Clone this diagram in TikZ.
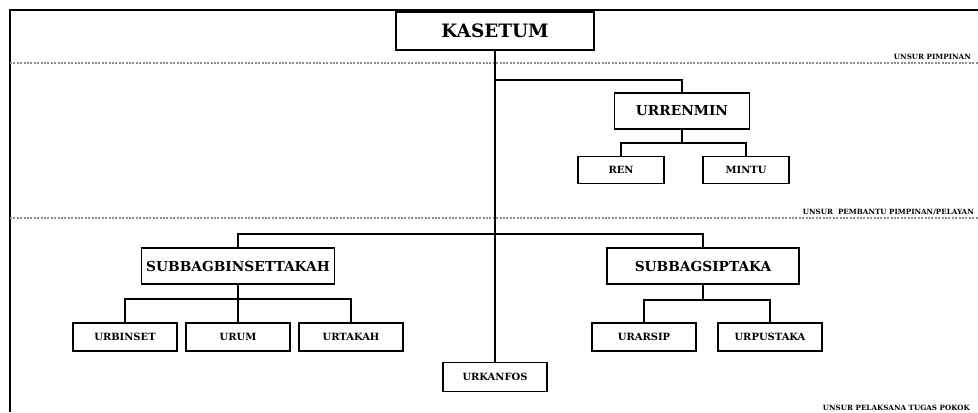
\documentclass[tikz,border=0pt]{standalone}
\usepackage{fontspec}
\setmainfont{DejaVu Serif}
\usepackage{tikz}
\usetikzlibrary{positioning}

\begin{document}
\begin{tikzpicture}[
		x=1bp,
		y=-1bp,
		line join=miter,
		unitbox/.style={
			draw=black,
			fill=white,
			line width=1.8pt,
			inner sep=0pt
		},
		headbox/.style={unitbox,minimum width=198bp,minimum height=38bp,font=\fontsize{18.5}{18.5}\selectfont\bfseries},
		subbox/.style={unitbox,minimum height=36bp,font=\fontsize{13.8}{13.8}\selectfont\bfseries},
		leafbox/.style={unitbox,minimum width=104bp,minimum height=28bp,font=\fontsize{10}{10}\selectfont\bfseries},
		link/.style={draw=black,line width=1.5pt},
		divider/.style={draw=black!45,line width=1.1pt,dash pattern=on 2bp off 1.4bp},
		tier/.style={anchor=south east,inner sep=1pt,font=\fontsize{7.2}{7.2}\selectfont\bfseries}
		]
		
		% page frame
		\useasboundingbox (0,0) rectangle (978,412);
		\draw[line width=1.8pt] (978,10) -- (10,10) -- (10,412);
		
		% tier dividers
		\coordinate (d1l) at (10,63);
		\coordinate (d1r) at (978,63);
		\coordinate (d2l) at (10,218);
		\coordinate (d2r) at (978,218);
		\draw[divider] (d1l) -- (d1r);
		\draw[divider] (d2l) -- (d2r);
		
		% tier labels
		\node[tier] (tpim) at (972,61) {UNSUR PIMPINAN};
		\node[tier] (tpem) at (975,216) {UNSUR~~PEMBANTU PIMPINAN/PELAYAN};
		\node[tier] (tpel) at (971,412) {UNSUR PELAKSANA TUGAS POKOK};
		
		% junctions on the trunk
		\coordinate (jren) at (495,80);
		\coordinate (jsub) at (495,234);
		
		% boxes
		\node[headbox] (kasetum) at (495,31) {KASETUM};
		\node[subbox,minimum width=135bp] (urrenmin) at (682,111) {URRENMIN};
		\node[leafbox,minimum width=86bp,minimum height=27bp] (ren) at (621,170) {REN};
		\node[leafbox,minimum width=86bp,minimum height=27bp] (mintu) at (746,170) {MINTU};
		
		\node[subbox,minimum width=193bp] (binset) at (238,266) {SUBBAGBINSETTAKAH};
		\node[subbox,minimum width=192bp] (siptaka) at (703,266) {SUBBAGSIPTAKA};
		
		\node[leafbox] (urbinset) at (125,337) {URBINSET};
		\node[leafbox] (urum) at (238,337) {URUM};
		\node[leafbox] (urtakah) at (351,337) {URTAKAH};
		\node[leafbox] (urarsip) at (644,337) {URARSIP};
		\node[leafbox] (urpustaka) at (770,337) {URPUSTAKA};
		\node[leafbox,minimum height=29bp] (urkanfos) at (495,377) {URKANFOS};
		
		% trunk
		\draw[link] (kasetum.south) -- (urkanfos.north);
		
		% staff branch
		\draw[link] (jren) -| (urrenmin.north);
		\draw[link] (urrenmin.south) |- (ren.north |- 0,143) -- (ren.north);
		\draw[link] (urrenmin.south) |- (mintu.north |- 0,143) -- (mintu.north);
		
		% sub-sections
		\draw[link] (binset.north) |- (jsub) -| (siptaka.north);
		
		\draw[link] (binset.south) |- (urbinset.north |- 0,299) -- (urbinset.north);
		\draw[link] (binset.south) |- (urtakah.north |- 0,299) -- (urtakah.north);
		\draw[link] (binset.south) -- (urum.north);
		
		\draw[link] (siptaka.south) |- (urarsip.north |- 0,300) -- (urarsip.north);
		\draw[link] (siptaka.south) |- (urpustaka.north |- 0,300) -- (urpustaka.north);
\end{tikzpicture}
\end{document}
